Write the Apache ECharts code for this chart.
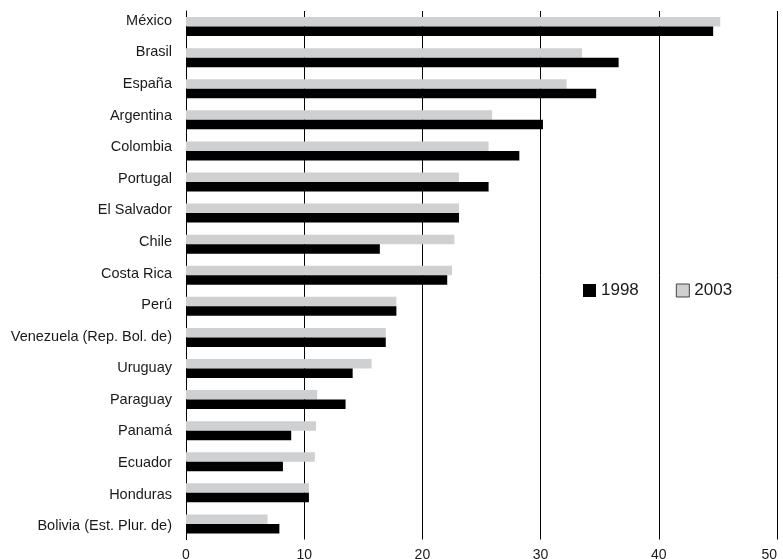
<!DOCTYPE html>
<html>
<head>
<meta charset="utf-8">
<script src="https://cdn.jsdelivr.net/npm/echarts@6/dist/echarts.min.js"></script>
<style>
html,body{margin:0;padding:0;background:#fff;}
#c{width:783px;height:559px;}
</style>
</head>
<body>
<div id="c"></div>
<script>
const categories = ["México","Brasil","España","Argentina","Colombia","Portugal","El Salvador","Chile","Costa Rica","Perú","Venezuela (Rep. Bol. de)","Uruguay","Paraguay","Panamá","Ecuador","Honduras","Bolivia (Est. Plur. de)"];
const values1998 = [44.6,36.6,34.7,30.2,28.2,25.6,23.1,16.4,22.1,17.8,16.9,14.1,13.5,8.9,8.2,10.4,7.9];
const values2003 = [45.2,33.5,32.2,25.9,25.6,23.1,23.1,22.7,22.5,17.8,16.9,15.7,11.1,11.0,10.9,10.4,6.9];
const xTicks = [0,10,20,30,40,50];

const FONT = '"Liberation Sans", Arial, Helvetica, sans-serif';
const chart = echarts.init(document.getElementById('c'), null, {renderer:'canvas'});
chart.setOption({
  animation: false,
  backgroundColor: '#fff',
  textStyle: {fontFamily: FONT},
  legend: {
    data: [
      {name:'1998', itemStyle:{color:'#000', borderColor:'#000', borderWidth:0}},
      {name:'2003', itemStyle:{color:'#cfd0d2', borderColor:'#444', borderWidth:1}}
    ],
    left: 583, top: 282, padding: 0,
    itemWidth: 13, itemHeight: 13, itemGap: 37,
    icon: 'rect',
    textStyle: {fontSize: 17, color: '#1a1a1a', fontFamily: FONT},
    selectedMode: false
  },
  grid: [
    {left: 186, right: 6, top: 11, height: 528.5, containLabel: false, outerBoundsMode: 'none'},
    {left: 186, right: 6, top: 5, height: 537, containLabel: false, outerBoundsMode: 'none'}
  ],
  xAxis: [
    {
      gridIndex: 0, type: 'value', min: xTicks[0], max: xTicks[xTicks.length-1], interval: 10,
      axisLine: {show:false}, axisTick: {show:false},
      splitLine: {show:true, lineStyle:{color:'#000', width:1}},
      axisLabel: {fontSize: 14, color:'#1a1a1a', margin: 9, fontFamily: FONT, alignMaxLabel: 'right'}
    },
    {
      gridIndex: 1, type: 'value', min: 0, max: 50, show: false
    }
  ],
  yAxis: [
    {
      gridIndex: 0, type: 'category', data: categories, inverse: true,
      axisLine: {show:true, lineStyle:{color:'#000', width:1}},
      axisTick: {show:false}, axisLabel: {show:false}
    },
    {
      gridIndex: 1, type: 'category', data: categories, inverse: true,
      axisLine: {show:false}, axisTick: {show:false},
      axisLabel: {fontSize: 14.5, color:'#1a1a1a', margin: 14, fontFamily: FONT}
    }
  ],
  series: [
    {
      name: '2003', type: 'bar', xAxisIndex: 0, yAxisIndex: 0,
      data: values2003, barWidth: 9.5, barGap: '0%',
      itemStyle: {color: '#cfd0d2'}
    },
    {
      name: '1998', type: 'bar', xAxisIndex: 0, yAxisIndex: 0,
      data: values1998, barWidth: 9.5, barGap: '0%',
      itemStyle: {color: '#000'}
    }
  ]
});
</script>
</body>
</html>
